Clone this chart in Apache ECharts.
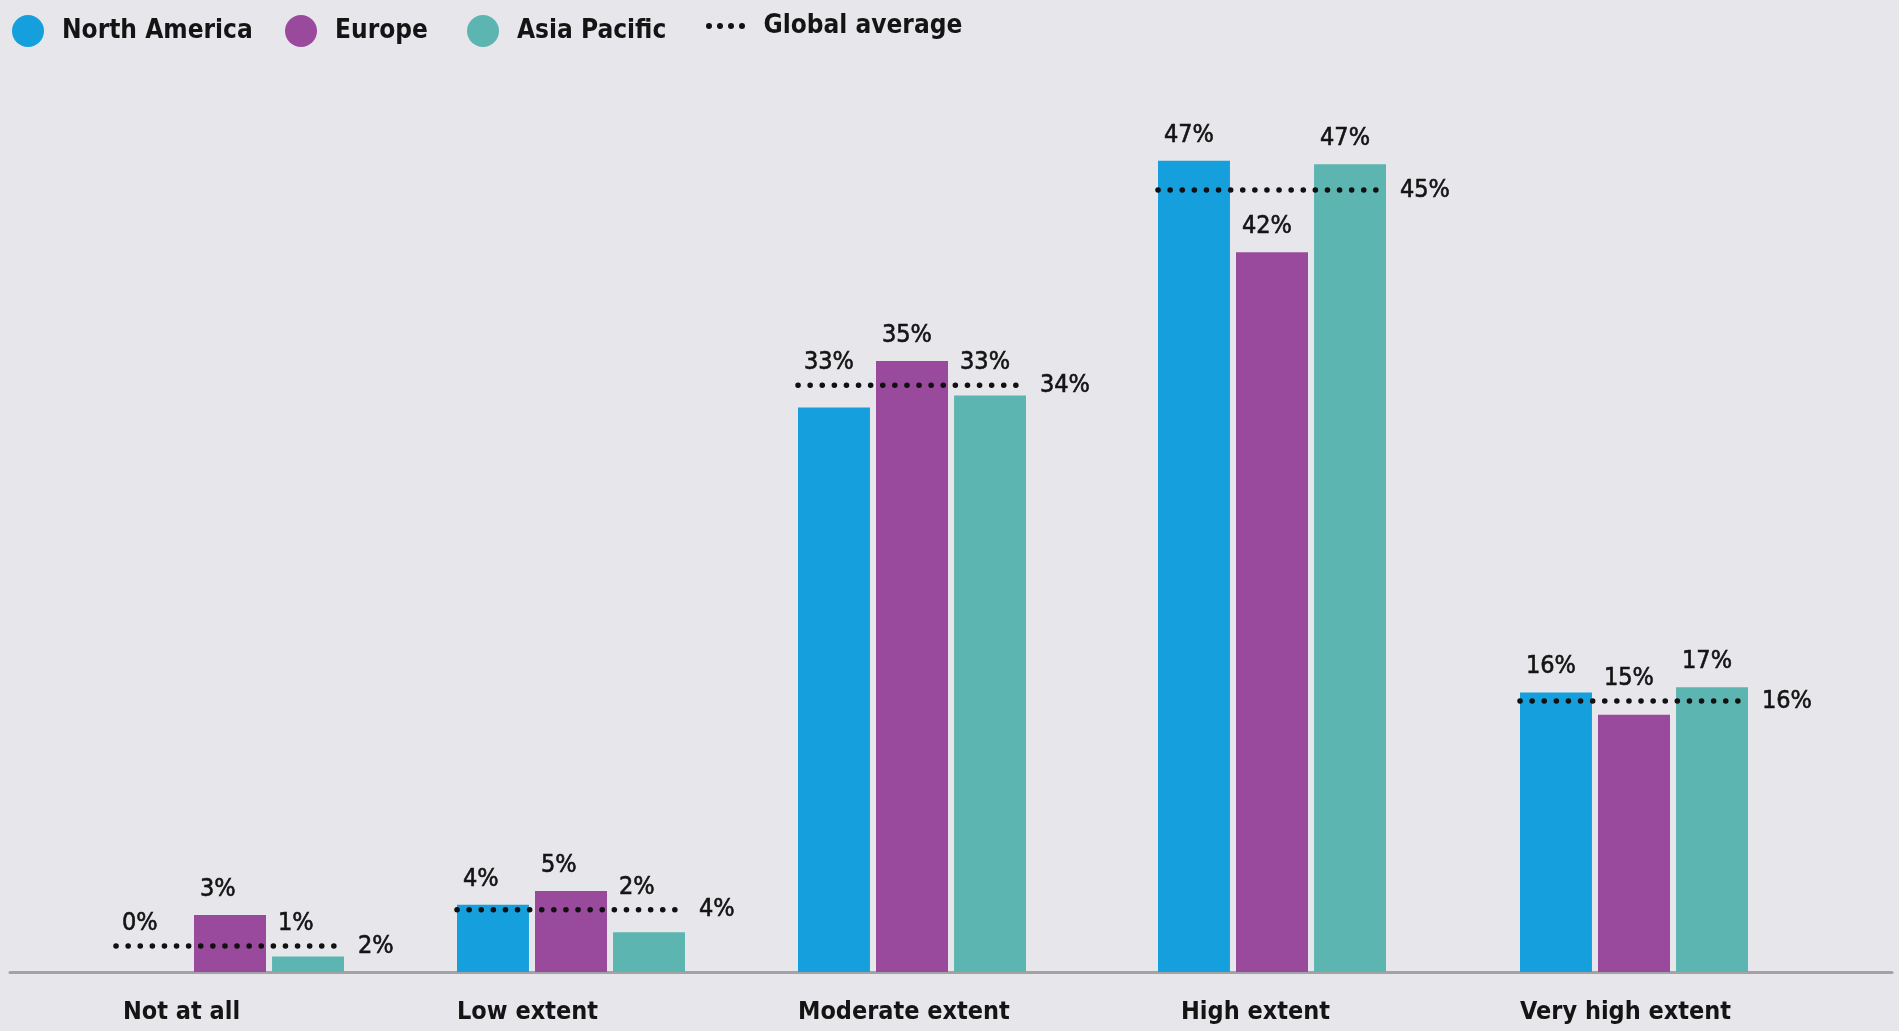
<!DOCTYPE html>
<html>
<head>
<meta charset="utf-8">
<title>Extent by region</title>
<script src="https://cdn.jsdelivr.net/npm/echarts@6/dist/echarts.min.js"></script>
<style>
html, body { margin: 0; padding: 0; background: #e7e6eb; }
#chart { width: 1899px; height: 1031px; }
</style>
</head>
<body>
<div id="chart"></div>
<script>
// data
const categories = ['Not at all', 'Low extent', 'Moderate extent', 'High extent', 'Very high extent']
const northAmerica = [0, 3.9, 32.7, 47.0, 16.2]
const europe = [3.3, 4.7, 35.4, 41.7, 14.9]
const asiaPacific = [0.9, 2.3, 33.4, 46.8, 16.5]
const globalAverage = [1.5, 3.6, 34.0, 45.3, 15.7]

const regions = [
  { name: 'North America', data: northAmerica, color: '#159fdc' },
  { name: 'Europe', data: europe, color: '#9a4a9c' },
  { name: 'Asia Pacific', data: asiaPacific, color: '#5db5b2' }
]

// layout (px)
const font = "'Liberation Sans Narrow', 'DejaVu Sans Condensed', 'Roboto Condensed', Roboto, sans-serif"
const textColor = '#141414'
const groupLeft = [116, 457, 798, 1158, 1520]
const labelShift = [7, 0, 0, 23, 0]
const groupWidth = 228
const gridTop = 109
const gridBottom = 59
const yMax = 50
const pxPerUnit = (1031 - gridTop - gridBottom) / yMax

const pct = v => Math.round(v) + '%'

// four dots for the legend of the average line
const dotsIcon = 'path://M0,3a3,3 0 1,0 6,0a3,3 0 1,0 -6,0Z' +
  'M11,3a3,3 0 1,0 6,0a3,3 0 1,0 -6,0Z' +
  'M22,3a3,3 0 1,0 6,0a3,3 0 1,0 -6,0Z' +
  'M33,3a3,3 0 1,0 6,0a3,3 0 1,0 -6,0Z'

const grids = []
const xAxes = []
const yAxes = []
const series = []

categories.forEach((cat, i) => {
  grids.push({ left: groupLeft[i], width: groupWidth, top: gridTop, bottom: gridBottom })
  xAxes.push({
    type: 'category', gridIndex: i, data: [cat], show: false
  })
  xAxes.push({
    type: 'value', gridIndex: i, min: 0, max: 1, interval: 1, position: 'bottom',
    axisLine: { show: false }, axisTick: { show: false }, splitLine: { show: false },
    axisLabel: {
      show: true, align: 'left', verticalAlign: 'middle', margin: 40,
      padding: [0, 0, 0, labelShift[i]],
      fontFamily: font, fontSize: 25, fontWeight: 'bold', color: textColor,
      formatter: v => (v === 0 ? cat : '')
    }
  })
  yAxes.push({ type: 'value', gridIndex: i, min: 0, max: yMax, show: false })

  const avg = globalAverage[i]
  regions.forEach(r => {
    const v = r.data[i]
    // labels of bars sitting just under the average line go above the line
    let dy = -13
    if (avg > v && avg - v < 2) dy = -((avg - v) * pxPerUnit + 10)
    series.push({
      type: 'bar',
      name: r.name,
      xAxisIndex: i * 2,
      yAxisIndex: i,
      barWidth: 72,
      barGap: '8.4%',
      itemStyle: { color: r.color },
      label: {
        show: true,
        position: [6, dy],
        align: 'left',
        verticalAlign: 'bottom',
        fontFamily: font,
        fontSize: 25,
        color: textColor,
        textBorderColor: textColor,
        textBorderWidth: 0.6,
        formatter: p => pct(p.value)
      },
      data: [{ value: v }]
    })
  })
  series.push({
    type: 'line',
    name: 'Global average',
    xAxisIndex: i * 2 + 1,
    yAxisIndex: i,
    symbol: 'none',
    silent: true,
    z: 5,
    lineStyle: { color: '#111', width: 5.5, type: [0.1, 12], cap: 'round' },
    endLabel: {
      show: true,
      distance: 14,
      fontFamily: font,
      fontSize: 25,
      color: textColor,
      textBorderColor: textColor,
      textBorderWidth: 0.6,
      formatter: p => pct(p.value[1])
    },
    data: [[0, avg], [1, avg]]
  })
})

// long baseline under all groups
grids.push({ left: 10, right: 7, top: gridTop, bottom: gridBottom })
xAxes.push({
  type: 'value', gridIndex: 5, min: 0, max: 1, position: 'bottom',
  axisLine: { show: true, lineStyle: { color: '#a3a3a6', width: 3 } },
  axisTick: { show: false }, axisLabel: { show: false }, splitLine: { show: false }
})
yAxes.push({ type: 'value', gridIndex: 5, min: 0, max: yMax, show: false })

const legendText = {
  fontFamily: font, fontSize: 26, fontWeight: 'bold', color: textColor, padding: [0, 0, 0, 13]
}
const legendNames = ['North America', 'Europe', 'Asia Pacific', 'Global average']
const legendLeft = [12, 285, 467, 706]
const legends = legendNames.map((name, k) => ({
  left: legendLeft[k],
  top: k < 3 ? 15 : 13,
  padding: 0,
  itemWidth: k < 3 ? 32 : 40,
  itemHeight: k < 3 ? 32 : 6,
  selectedMode: false,
  textStyle: legendText,
  data: [k < 3
    ? { name: name, icon: 'circle' }
    : { name: name, icon: dotsIcon, itemStyle: { color: '#111' } }]
}))

const chart = echarts.init(document.getElementById('chart'))
chart.setOption({
  backgroundColor: '#e7e6eb',
  animation: false,
  legend: legends,
  grid: grids,
  xAxis: xAxes,
  yAxis: yAxes,
  series: series
})

window.addEventListener('resize', () => chart.resize())
</script>
</body>
</html>
